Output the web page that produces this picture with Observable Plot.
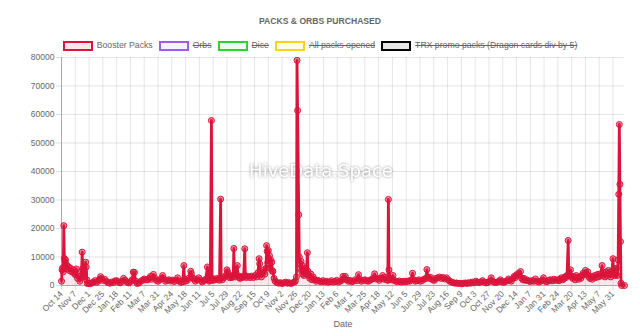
<!DOCTYPE html>
<html><head><meta charset="utf-8">
<script src="https://cdn.jsdelivr.net/npm/d3@7"></script>
<script src="https://cdn.jsdelivr.net/npm/@observablehq/plot@0.6"></script>
<style>
body{margin:0;background:#fff;font-family:"Liberation Sans",Arial,sans-serif;}
#wrap{position:relative;width:640px;height:336px;overflow:hidden;}
#chart{position:absolute;left:0;top:0;}
#title{position:absolute;left:0;top:15px;width:640px;text-align:center;font-size:8.6px;font-weight:bold;color:#666;line-height:12px;}
#legend{position:absolute;left:0;top:40px;width:640px;display:flex;justify-content:center;align-items:center;font-size:8.7px;color:#666;line-height:11px;}
.item{display:flex;align-items:center;margin:0 3px;}
.box{box-sizing:border-box;width:30px;height:10px;border:2px solid;margin-right:4px;}
.off{text-decoration:line-through;}
</style></head><body>
<div id="wrap"><div id="chart"></div><div id="title"></div><div id="legend"></div></div>
<script>
const chartTitle = "PACKS & ORBS PURCHASED";
const xLabel = "Date";
const watermark = "HiveData.Space";
const startDate = "2018-10-14";
const endDay = 980;
const xTickStepDays = 24;
const xTickCount = 41;
const yTicks = [0, 10000, 20000, 30000, 40000, 50000, 60000, 70000, 80000];

const seriesNames = ["Booster Packs", "Orbs", "Dice", "All packs opened", "TRX promo packs (Dragon cards div by 5)"];
const seriesColors = ["#dc143c", "#a259f0", "#2bd42b", "#ffd21f", "#000000"];
const seriesFills = ["rgba(220,20,60,0.1)", "rgba(162,89,240,0.08)", "rgba(43,212,43,0.08)", "rgba(255,210,31,0.08)", "rgba(0,0,0,0.1)"];
const seriesVisible = [true, false, false, false, false];

// Booster packs purchased: [days since start, value]
const boosterPacks = [
[0,1500],[1,5500],[2,6200],[3,4800],[4,21000],[5,9500],[6,8300],[7,9000],[8,6500],[9,7200],[10,5800],[12,6600],[14,5200],[16,6000],[18,4800],[20,5500],[22,4300],[24,3800],[26,5800],[28,2500],[30,3200],[32,1500],[34,2800],[35,5000],[36,11700],[37,6000],[38,3000],[40,4500],[42,8200],[43,6500],[44,2000],[45,700],
[47,800],[50,600],[53,900],[56,1200],[58,1700],[61,1100],[64,1500],[66,2200],[68,3100],[70,2400],[72,1800],[75,2200],[78,1500],[81,1000],[84,800],[87,1200],[90,1000],[93,1600],[96,1700],[99,1300],[102,900],[105,1400],[108,2500],[111,1800],[114,1200],[117,900],[120,1300],[123,2000],[125,4700],[127,4600],[129,1500],[132,700],[135,900],[138,1500],[141,1800],[144,2300],[147,2000],[150,2000],[153,2600],[155,3200],[157,2200],[160,3900],[162,2700],[165,1800],[168,1500],[171,2000],[174,2500],[176,3500],[178,2400],[181,1500],[184,1800],[187,2000],[190,1600],[193,1900],[196,1400],[199,1800],[202,2700],[205,1500],[208,1100],[211,1300],[213,7000],[214,2300],[216,1500],[219,1800],[222,2600],[225,5000],[226,4200],[228,2800],[230,2300],[233,1500],[236,2000],[239,2700],[242,1800],[245,1200],[248,1700],[251,2200],[254,6500],[255,2000],[257,1500],[259,1800],
[261,57900],[262,2500],[264,1800],[267,2000],[270,2500],[273,2200],[275,1800],[277,30300],[278,2500],[280,2000],[283,2800],[286,3500],[288,5500],[289,4800],[291,3500],[293,2700],[295,3000],[297,2800],[299,3500],[300,13000],[301,4000],[303,3000],[306,7000],[307,3500],[309,2800],[311,2500],[313,3200],[315,2800],[317,3000],[319,12900],[320,3500],[322,2800],[325,3200],[328,2800],[331,3300],[334,2800],[337,3500],[340,3000],[342,4500],[344,9400],[345,7600],[346,4000],[348,3000],[350,4500],[352,5500],[354,4000],[356,6000],[357,14000],[358,12000],[359,8000],[360,12300],[361,9000],[362,10500],[363,6000],[364,9000],[366,8200],[367,5000],[368,5000],[370,2500],[372,1500],[375,1000],[378,800],[381,1000],[384,700],[387,900],[390,1200],[393,800],[396,1000],[399,700],[402,900],[405,1200],[407,1500],[409,3000],
[410,79000],[411,61400],[413,24800],[414,10000],[415,7600],[416,6000],[417,8500],[418,5000],[419,7000],[420,4000],[421,5500],[422,3500],[424,6000],[426,4000],[428,11500],[429,5000],[430,3500],[432,2500],[434,4000],[436,2000],[438,3000],[440,2200],[443,1500],[446,1800],[449,1500],[452,1300],[455,1700],[458,1300],[461,1500],[464,1100],[467,1300],[470,1700],[473,1200],[476,1400],[479,1800],[482,1200],[485,1500],[488,1800],[490,3200],[492,2500],[494,3200],[496,2000],[499,1500],[502,1800],[505,1300],[508,1500],[511,2000],[514,1700],[517,3800],[519,2200],[522,1500],[525,1800],[528,2000],[531,1700],[534,1500],[537,1800],[540,2200],[543,2600],[545,4100],[547,2300],[550,2500],[553,1800],[556,2500],[559,3500],[561,2200],[563,2800],[566,2000],[568,1800],
[569,30200],[570,5500],[572,2500],[574,2000],[577,3500],[579,1800],[582,1500],[585,1300],[588,1600],[591,1200],[594,1400],[597,1500],[600,1300],[603,1600],[606,1500],[609,2000],[611,4300],[613,2000],[616,1500],[619,1700],[622,2000],[625,1500],[628,1800],[631,2200],[634,2500],[636,5600],[638,3000],[640,2500],[643,2800],[646,2000],[649,1800],[652,2500],[655,2700],[658,3000],[661,2500],[664,2800],[667,2300],[670,2700],[673,2000],[676,1500],[679,1200],[682,1000],[685,800],[688,900],[691,700],[694,800],[697,600],[700,800],[703,900],[706,700],[709,1000],[712,800],[715,1200],[718,900],[721,1500],[724,1200],[727,1000],[730,1300],[733,1700],[736,1200],[739,900],[742,1100],[745,1500],[748,2700],[750,1500],[753,1200],[756,1000],[759,1300],[762,1500],[764,2000],[766,1400],[769,1100],[772,1300],[775,1600],[778,2300],[780,1800],[783,1500],[786,2500],[788,3200],[790,2800],[792,3800],[794,3500],[796,4300],[799,4900],[801,2600],[803,2000],[805,2500],[807,1800],[810,2000],[813,1600],[816,1400],[819,1700],[822,1500],[825,2300],[828,1500],[831,1200],[834,1500],[837,1800],[839,2700],[842,1500],[845,1300],[848,1800],[851,2000],[854,1600],[857,2200],[860,1800],[863,2000],[866,1700],[868,2200],[870,2700],[872,2000],[874,2300],[876,3000],[878,2800],[880,3500],
[882,15800],[883,4000],[885,3500],[886,5500],[888,3000],[890,2500],[892,3200],[894,2000],[896,3500],[898,2800],[900,2200],[902,3000],[904,2500],[906,3500],[908,4300],[910,3800],[912,5300],[914,4000],[916,4800],[918,3000],[920,2500],[922,3200],[924,2200],[926,3000],[928,3500],[930,2800],[932,3800],[934,3000],[936,4000],[938,3300],[941,7000],[942,3500],[944,4500],[946,3000],[948,4800],[950,3500],[952,5300],[954,4000],[956,3000],[958,5000],[960,9400],[961,4500],[962,6000],[963,3500],[964,5300],[965,4000],[966,6000],[967,3500],[969,9000],[970,32000],[971,56500],[972,35500],[973,15400],[974,800],[975,0],[980,0]
];

const start = d3.utcParse("%Y-%m-%d")(startDate);
const end = d3.utcDay.offset(start, endDay);
const data = boosterPacks.map(([d, v]) => ({date: d3.utcDay.offset(start, d), value: v}));
const xTicks = d3.range(xTickCount).map(i => d3.utcDay.offset(start, i * xTickStepDays));
const red = seriesColors[0];

const chart = Plot.plot({
  width: 640, height: 336,
  marginTop: 57, marginBottom: 51, marginLeft: 61, marginRight: 16,
  x: {type: "utc", domain: [start, end]},
  y: {domain: [0, 80000]},
  style: {fontFamily: "'Liberation Sans', Arial, sans-serif", fontSize: "8.5px", color: "#666", background: "transparent", overflow: "visible"},
  marks: [
    Plot.gridY(yTicks, {stroke: "#000", strokeOpacity: 0.1}),
    Plot.gridX(xTicks, {stroke: "#000", strokeOpacity: 0.1}),
    Plot.axisY(yTicks, {tickSize: 5, tickPadding: 2, stroke: "#ddd", fill: "#666", label: null, tickFormat: d => String(d)}),
    Plot.axisX(xTicks, {tickSize: 5, tickPadding: 2, tickRotate: -45, stroke: "#ddd", fill: "#666", label: null, tickFormat: d3.utcFormat("%b %-d")}),
    Plot.ruleX([start], {stroke: "#000", strokeOpacity: 0.25}),
    Plot.ruleY([0], {stroke: "#000", strokeOpacity: 0.25}),
    Plot.text([watermark], {frameAnchor: "middle", dx: -22, dy: 0, fill: "white", fontSize: 18, fontFamily: "DejaVu Sans", letterSpacing: 0}),
    Plot.areaY(data, {x: "date", y: "value", fill: red, fillOpacity: 0.1}),
    Plot.lineY(data, {x: "date", y: "value", stroke: red, strokeWidth: 2.8}),
    Plot.dot(data, {x: "date", y: "value", r: 3, fill: red, fillOpacity: 0.45, stroke: red, strokeWidth: 1}),
    Plot.text([xLabel], {frameAnchor: "bottom", dy: 41, fill: "#666", fontSize: 9})
  ]
});
document.getElementById("chart").appendChild(chart);
d3.select(chart).selectAll("text").filter(function(){ return this.textContent === watermark; })
  .style("filter", "drop-shadow(0 0 1.5px rgba(0,0,0,0.45))");

document.getElementById("title").textContent = chartTitle;
const legend = document.getElementById("legend");
seriesNames.forEach((name, i) => {
  const item = document.createElement("div");
  item.className = "item";
  const box = document.createElement("div");
  box.className = "box";
  box.style.borderColor = seriesColors[i];
  box.style.background = seriesFills[i];
  const label = document.createElement("span");
  label.textContent = name;
  if (!seriesVisible[i]) label.className = "off";
  item.appendChild(box); item.appendChild(label);
  legend.appendChild(item);
});
</script>
</body></html>
